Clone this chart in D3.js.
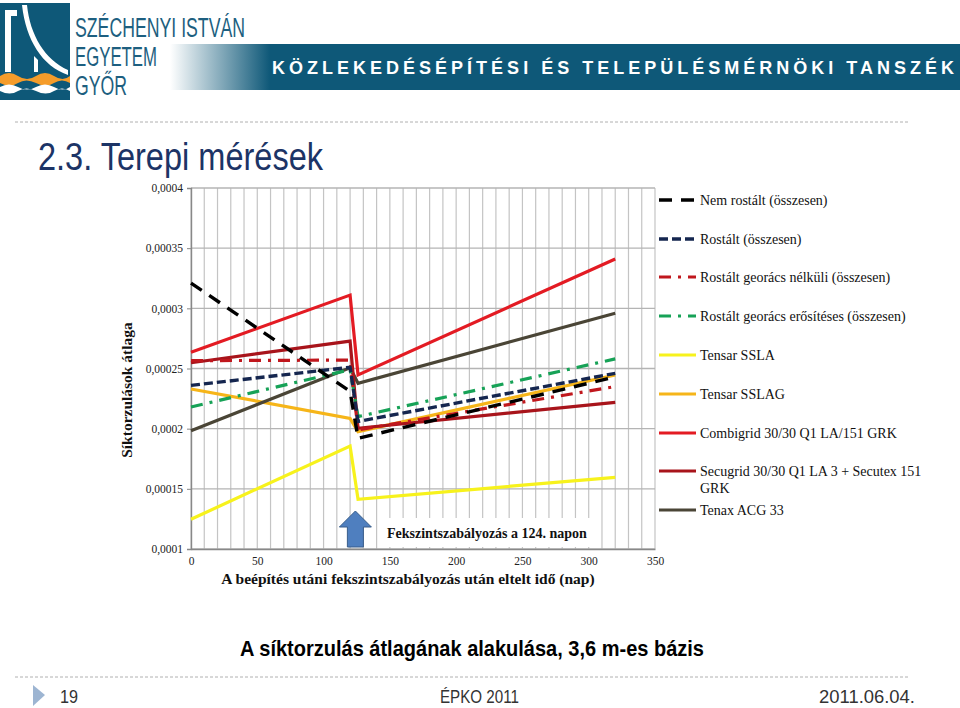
<!DOCTYPE html>
<html><head><meta charset="utf-8">
<script src="https://cdn.jsdelivr.net/npm/d3@7"></script>
<style>
html,body{margin:0;padding:0;background:#fff;}
svg{display:block;}
</style></head>
<body>
<svg id="chart" width="960" height="708"></svg>
<script>
// ---------- DATA ----------
const days = [0, 120, 126, 320];
const seriesNames = [
  "Nem rostált (összesen)",
  "Rostált (összesen)",
  "Rostált georács nélküli (összesen)",
  "Rostált georács erősítéses (összesen)",
  "Tensar SSLA",
  "Tensar SSLAG",
  "Combigrid 30/30 Q1 LA/151 GRK",
  "Secugrid 30/30 Q1 LA 3 + Secutex 151 GRK",
  "Tenax ACG 33"
];
const nemRostalt        = [0.000321, 0.000231, 0.000192, 0.000243];
const rostalt           = [0.000236, 0.000251, 0.000206, 0.000246];
const rostaltNelkuli    = [0.0002565, 0.000257, 0.000199, 0.000235];
const rostaltErositeses = [0.000218, 0.000249, 0.000210, 0.000258];
const tensarSSLA        = [0.0001247, 0.0001856, 0.0001413, 0.0001596];
const tensarSSLAG       = [0.000233, 0.0002086, 0.0001975, 0.0002446];
const combigrid         = [0.0002635, 0.000311, 0.0002446, 0.000341];
const secugrid          = [0.0002548, 0.0002728, 0.0002003, 0.0002219];
const tenax             = [0.0001983, 0.0002507, 0.0002377, 0.0002959];
const seriesValues = [nemRostalt, rostalt, rostaltNelkuli, rostaltErositeses,
  tensarSSLA, tensarSSLAG, combigrid, secugrid, tenax];

const xTicks = [0, 50, 100, 150, 200, 250, 300, 350];
const yTicks = [0.0001, 0.00015, 0.0002, 0.00025, 0.0003, 0.00035, 0.0004];
const yTickLabels = ["0,0001", "0,00015", "0,0002", "0,00025", "0,0003", "0,00035", "0,0004"];
const annotationDay = 124;
const annotationText = "Fekszintszabályozás a 124. napon";
const xTitle = "A beépítés utáni fekszintszabályozás után eltelt idő (nap)";
const yTitle = "Síktorzulások átlaga";

// ---------- STYLES ----------
const styles = [
  {color:"#000000", dash:"13,9", w:3.4},
  {color:"#15264f", dash:"9,4", w:3.4},
  {color:"#c0171d", dash:"12,7,3,7", w:3.2},
  {color:"#17a257", dash:"12,7,3,7", w:3.2},
  {color:"#f7f21c", dash:null, w:3.2},
  {color:"#f6b519", dash:null, w:3.2},
  {color:"#e31b23", dash:null, w:3.2},
  {color:"#a8141b", dash:null, w:3.2},
  {color:"#4a4536", dash:null, w:3.2}
];

const svg = d3.select("#chart");

// ---------- HEADER ----------
const teal = "#0e5878";
const defs = svg.append("defs");
const grad = defs.append("linearGradient").attr("id","bannerGrad")
  .attr("x1","170").attr("x2","270").attr("y1","0").attr("y2","0")
  .attr("gradientUnits","userSpaceOnUse");
grad.append("stop").attr("offset","0").attr("stop-color","#ffffff");
grad.append("stop").attr("offset","1").attr("stop-color",teal);
svg.append("rect").attr("x",170).attr("y",44).attr("width",790).attr("height",46)
  .attr("fill","url(#bannerGrad)");
svg.append("text").attr("x",272).attr("y",74)
  .attr("textLength",682).attr("lengthAdjust","spacing")
  .attr("font-family","Liberation Sans, Arial, sans-serif").attr("font-weight","bold")
  .attr("font-size",18).attr("fill","#ffffff")
  .text("KÖZLEKEDÉSÉPÍTÉSI ÉS TELEPÜLÉSMÉRNÖKI TANSZÉK");

// logo block
const logo = svg.append("g");
logo.append("rect").attr("x",0).attr("y",3).attr("width",70).attr("height",97).attr("fill",teal);
logo.append("path").attr("d","M5,72 L5,10 L17,10 L17,16 L11,16 L11,72 Z").attr("fill","#fff");
logo.append("path").attr("d","M22,5 L27,5 C30,35 45,60 68,70 L68,75 C42,66 26,40 22,5 Z").attr("fill","#fff");
logo.append("path").attr("d","M38,60 L38,72 L34,72 L34,56 Z").attr("fill","#fff");
logo.append("path").attr("d","M0,76 Q9,70 18,76 T36,76 T54,76 T70,76 L70,83 Q62,78 54,83 T36,83 T18,83 T0,83 Z").attr("fill","#f59c2a");
logo.append("path").attr("d","M0,87 Q9,82 18,87 T36,87 T54,87 T70,87 L70,91 Q62,86 54,91 T36,91 T18,91 T0,91 Z").attr("fill","#fff");

const logoFont = "Liberation Sans, Arial, sans-serif";
[["SZÉCHENYI ISTVÁN",37,170],["EGYETEM",66,82],["GYŐR",95,52]].forEach(([t,y,w])=>{
  svg.append("text").attr("x",75).attr("y",y).attr("textLength",w).attr("lengthAdjust","spacingAndGlyphs")
    .attr("font-family",logoFont).attr("font-size",27).attr("fill","#1d5f80").text(t);
});

// dotted separators
svg.append("line").attr("x1",15).attr("x2",910).attr("y1",122).attr("y2",122)
  .attr("stroke","#b0b0b0").attr("stroke-width",1).attr("stroke-dasharray","3,2");
svg.append("line").attr("x1",15).attr("x2",910).attr("y1",677).attr("y2",677)
  .attr("stroke","#b0b0b0").attr("stroke-width",1).attr("stroke-dasharray","3,2");

// slide title
svg.append("text").attr("x",38).attr("y",170).attr("textLength",285).attr("lengthAdjust","spacingAndGlyphs")
  .attr("font-family",logoFont).attr("font-size",38).attr("fill","#1c3466").text("2.3. Terepi mérések");

// ---------- CHART ----------
const x = d3.scaleLinear().domain([0,350]).range([191,655]);
const y = d3.scaleLinear().domain([0.0001,0.0004]).range([549,188]);
const serif = "Liberation Serif, Times New Roman, serif";

const grid = svg.append("g");
d3.range(0,351,10).forEach(d=>{
  grid.append("line").attr("x1",x(d)).attr("x2",x(d)).attr("y1",y(0.0004)).attr("y2",y(0.0001))
    .attr("stroke","#c4c4c4").attr("stroke-width",1.2);
});
yTicks.forEach(v=>{
  grid.append("line").attr("x1",x(0)).attr("x2",x(350)).attr("y1",y(v)).attr("y2",y(v))
    .attr("stroke","#b4b4b4").attr("stroke-width",1.4);
});

// axes
const xAxis = d3.axisBottom(x).tickValues(xTicks).tickSize(0).tickPadding(8);
const gx = svg.append("g").attr("transform",`translate(0,${y(0.0001)})`).call(xAxis);
gx.select(".domain").attr("stroke","#888").attr("stroke-width",1.4);
gx.selectAll("text").attr("font-family",serif).attr("font-size",11.5).attr("fill","#222");

const yAxis = d3.axisLeft(y).tickValues(yTicks).tickSize(4).tickPadding(4)
  .tickFormat((d,i)=>yTickLabels[i]);
const gy = svg.append("g").attr("transform",`translate(${x(0)},0)`).call(yAxis);
gy.select(".domain").attr("stroke","#888").attr("stroke-width",1.4);
gy.selectAll(".tick line").attr("stroke","#888");
gy.selectAll("text").attr("font-family",serif).attr("font-size",11.5).attr("fill","#222");

// axis titles
svg.append("text").attr("x",408).attr("y",584).attr("text-anchor","middle")
  .attr("font-family",serif).attr("font-weight","bold").attr("font-size",15.5).attr("fill","#111")
  .text(xTitle);
svg.append("text").attr("transform","translate(132,390) rotate(-90)").attr("text-anchor","middle")
  .attr("font-family",serif).attr("font-weight","bold").attr("font-size",15.5).attr("fill","#111")
  .text(yTitle);

// annotation
const ax = x(annotationDay);
svg.append("rect").attr("x",378).attr("y",518).attr("width",215).attr("height",29).attr("fill","#fff");
svg.append("text").attr("x",387).attr("y",538)
  .attr("font-family",serif).attr("font-weight","bold").attr("font-size",14).attr("fill","#111")
  .text(annotationText);
svg.append("path")
  .attr("d",`M${ax-16},527 L${ax},511 L${ax+16},527 L${ax+8},527 L${ax+8},547 L${ax-8},547 L${ax-8},527 Z`)
  .attr("fill","#4f7fbf").attr("stroke","#385d8a").attr("stroke-width",1);

// lines
const line = d3.line().x((d,i)=>x(days[i])).y(d=>y(d));
const drawOrder = [4,5,8,7,6,3,2,1,0];
drawOrder.forEach(i=>{
  const s = styles[i];
  svg.append("path").datum(seriesValues[i]).attr("d",line)
    .attr("fill","none").attr("stroke",s.color).attr("stroke-width",s.w)
    .attr("stroke-linejoin","miter")
    .attr("stroke-dasharray",s.dash);
});

// legend
const legendY = [200, 239, 277, 316, 355, 394, 433, 471, 510];
const lg = svg.append("g");
seriesNames.forEach((name,i)=>{
  const s = styles[i];
  const ly = legendY[i];
  lg.append("line").attr("x1",659).attr("x2",696).attr("y1",ly).attr("y2",ly)
    .attr("stroke",s.color).attr("stroke-width",s.w).attr("stroke-dasharray",s.dash);
  const t = lg.append("text").attr("x",700).attr("y",ly+5)
    .attr("font-family",serif).attr("font-size",14).attr("fill","#111");
  if (i===7) {
    t.append("tspan").attr("x",700).text("Secugrid 30/30 Q1 LA 3 + Secutex 151");
    t.append("tspan").attr("x",700).attr("dy",17).text("GRK");
  } else {
    t.text(name);
  }
});

// caption
svg.append("text").attr("x",240).attr("y",656).attr("textLength",464).attr("lengthAdjust","spacingAndGlyphs")
  .attr("font-family",logoFont).attr("font-weight","bold").attr("font-size",22).attr("fill","#000")
  .text("A síktorzulás átlagának alakulása, 3,6 m-es bázis");

// footer
svg.append("path").attr("d","M33,685 L45,695 L33,706 Z").attr("fill","#9db5d2");
const footFont = {family:logoFont, size:18, fill:"#333"};
[["19",60,18],["ÉPKO 2011",440,79],["2011.06.04.",819,96]].forEach(([t,fx,w])=>{
  svg.append("text").attr("x",fx).attr("y",703).attr("textLength",w).attr("lengthAdjust","spacingAndGlyphs")
    .attr("font-family",footFont.family).attr("font-size",footFont.size).attr("fill",footFont.fill).text(t);
});
</script>
</body></html>
